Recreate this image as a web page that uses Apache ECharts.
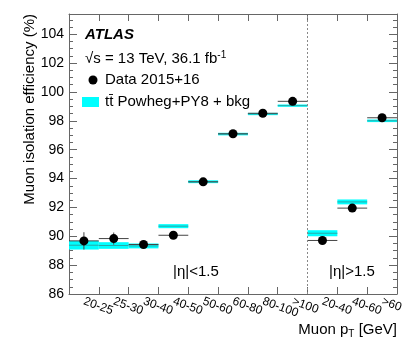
<!DOCTYPE html>
<html>
<head>
<meta charset="utf-8">
<script src="https://cdn.jsdelivr.net/npm/echarts@6/dist/echarts.min.js"></script>
<style>
  html, body { margin: 0; padding: 0; background: #fff; }
  #chart { width: 414px; height: 353px; }
</style>
</head>
<body>
<div id="chart"></div>
<script>
// bins: 8 barrel bins (|eta|<1.5) then 3 endcap bins (|eta|>1.5)
const categories = ['20-25', '25-30', '30-40', '40-50', '50-60', '60-80', '80-100', '>100', '20-40', '40-60', '>60']
const dataEff = [89.68, 89.84, 89.43, 90.07, 93.77, 97.10, 98.52, 99.35, 89.71, 91.95, 98.21]
const dataErr = [0.6, 0.42, 0.15, 0.1, 0.1, 0.08, 0.08, 0.08, 0.1, 0.12, 0.1]
const mcEff = [89.38, 89.36, 89.33, 90.70, 93.78, 97.08, 98.47, 99.05, 90.21, 92.38, 98.00]
const mcErr = [0.30, 0.23, 0.17, 0.14, 0.10, 0.09, 0.08, 0.08, 0.21, 0.17, 0.09]
const yTicks = [86, 88, 90, 92, 94, 96, 98, 100, 102, 104]

const font = 'Liberation Sans, Arial, Helvetica, sans-serif'
const frame = '#666'

let myChart = echarts.init(document.getElementById('chart'))

const axisY = (pos, showLabel) => ({
  type: 'value',
  position: pos,
  min: 86,
  max: 105.4,
  interval: 2,
  axisLine: { show: true, lineStyle: { color: frame, width: 1 } },
  axisTick: { show: true, inside: true, length: 8, lineStyle: { color: frame } },
  minorTick: { show: true, splitNumber: 4, length: 4, lineStyle: { color: frame } },
  splitLine: { show: false },
  axisLabel: {
    show: showLabel,
    fontFamily: font,
    fontSize: 14,
    color: '#000',
    margin: 5,
    formatter: v => (yTicks.indexOf(v) >= 0 ? String(v) : '')
  }
})

const options = {
  animation: false,
  grid: { left: 69, right: 17, top: 14, bottom: 59 },
  xAxis: [
    {
      type: 'category',
      data: categories,
      position: 'bottom',
      boundaryGap: true,
      axisLine: { lineStyle: { color: frame, width: 1 } },
      axisTick: { show: true, inside: true, length: 7, interval: 0, lineStyle: { color: frame } },
      axisLabel: {
        interval: 0,
        rotate: -20,
        margin: 7,
        fontFamily: font,
        fontSize: 12,
        color: '#000'
      },
      splitLine: { show: false }
    },
    {
      // hidden linear axis to place the bin edges
      type: 'value',
      position: 'top',
      min: 0,
      max: 11,
      interval: 1,
      axisLine: { show: true, lineStyle: { color: frame, width: 1 } },
      axisTick: { show: true, inside: true, length: 7, lineStyle: { color: frame } },
      axisLabel: { show: false },
      splitLine: { show: false }
    }
  ],
  yAxis: [axisY('left', true), axisY('right', false)],
  series: [
    {
      name: 'mc',
      type: 'custom',
      xAxisIndex: 1,
      yAxisIndex: 0,
      data: mcEff.map((v, i) => [i, v, mcErr[i]]),
      renderItem: (params, api) => {
        const i = api.value(0)
        const v = api.value(1)
        const e = api.value(2)
        const p0 = api.coord([i, v + e])
        const p1 = api.coord([i + 1, v - e])
        const pc = api.coord([i, v])
        return {
          type: 'group',
          children: [
            {
              type: 'rect',
              shape: { x: p0[0], y: p0[1], width: p1[0] - p0[0], height: p1[1] - p0[1] },
              style: { fill: '#00ffff' }
            },
            {
              type: 'line',
              shape: { x1: p0[0], y1: pc[1], x2: p1[0], y2: pc[1] },
              style: { stroke: '#2aa8a8', lineWidth: 1 }
            }
          ]
        }
      },
      z: 1
    },
    {
      name: 'dataErr',
      type: 'custom',
      xAxisIndex: 1,
      yAxisIndex: 0,
      data: dataEff.map((v, i) => [i, v, dataErr[i]]),
      renderItem: (params, api) => {
        const i = api.value(0)
        const v = api.value(1)
        const e = api.value(2)
        const pl = api.coord([i, v])
        const pr = api.coord([i + 1, v])
        const pt = api.coord([i + 0.5, v + e])
        const pb = api.coord([i + 0.5, v - e])
        return {
          type: 'group',
          children: [
            { type: 'line', shape: { x1: pl[0], y1: pl[1], x2: pr[0], y2: pr[1] }, style: { stroke: '#444', lineWidth: 1 } },
            { type: 'line', shape: { x1: pt[0], y1: pt[1], x2: pb[0], y2: pb[1] }, style: { stroke: '#444', lineWidth: 1 } }
          ]
        }
      },
      z: 2
    },
    {
      name: 'Data 2015+16',
      type: 'scatter',
      xAxisIndex: 1,
      yAxisIndex: 0,
      symbol: 'circle',
      symbolSize: 9,
      itemStyle: { color: '#000', opacity: 1 },
      data: dataEff.map((v, i) => [i + 0.5, v]),
      markLine: {
        silent: true,
        symbol: 'none',
        label: { show: false },
        lineStyle: { color: '#888', type: [2, 2], width: 1 },
        data: [{ xAxis: 8 }]
      },
      z: 3
    }
  ],
  graphic: [
    { type: 'text', x: 30, y: 14, rotation: Math.PI / 2,
      style: { text: 'Muon isolation efficiency (%)', font: '15px ' + font, fill: '#000', align: 'right', verticalAlign: 'middle' } },
    { type: 'text', x: 397, y: 330,
      style: {
        text: 'Muon p{sub|T} [GeV]', font: '15px ' + font, fill: '#000', align: 'right', verticalAlign: 'middle',
        rich: { sub: { fontSize: 10, fontFamily: font, verticalAlign: 'bottom', padding: [8, 0, 0, 0] } }
      } },
    { type: 'text', x: 85, y: 35,
      style: { text: 'ATLAS', font: 'italic bold 15px ' + font, fill: '#000', verticalAlign: 'middle' } },
    { type: 'text', x: 85, y: 59,
      style: {
        text: '√s = 13 TeV, 36.1 fb{sup|-1}', font: '15px ' + font, fill: '#000', verticalAlign: 'middle',
        rich: { sup: { fontSize: 10, fontFamily: font, padding: [0, 0, 8, 0] } }
      } },
    { type: 'circle', shape: { cx: 93, cy: 80, r: 4.5 }, style: { fill: '#000' } },
    { type: 'text', x: 105, y: 80,
      style: { text: 'Data 2015+16', font: '15px ' + font, fill: '#000', verticalAlign: 'middle' } },
    { type: 'rect', shape: { x: 82, y: 97, width: 17, height: 10 }, style: { fill: '#00ffff' } },
    { type: 'text', x: 105, y: 102,
      style: { text: 'tt\u0304 Powheg+PY8 + bkg', font: '15px ' + font, fill: '#000', verticalAlign: 'middle' } },
    { type: 'text', x: 173, y: 272,
      style: { text: '|η|<1.5', font: '15px ' + font, fill: '#000', verticalAlign: 'middle' } },
    { type: 'text', x: 329, y: 272,
      style: { text: '|η|>1.5', font: '15px ' + font, fill: '#000', verticalAlign: 'middle' } }
  ]
}

myChart.setOption(options, true)
</script>
</body>
</html>
